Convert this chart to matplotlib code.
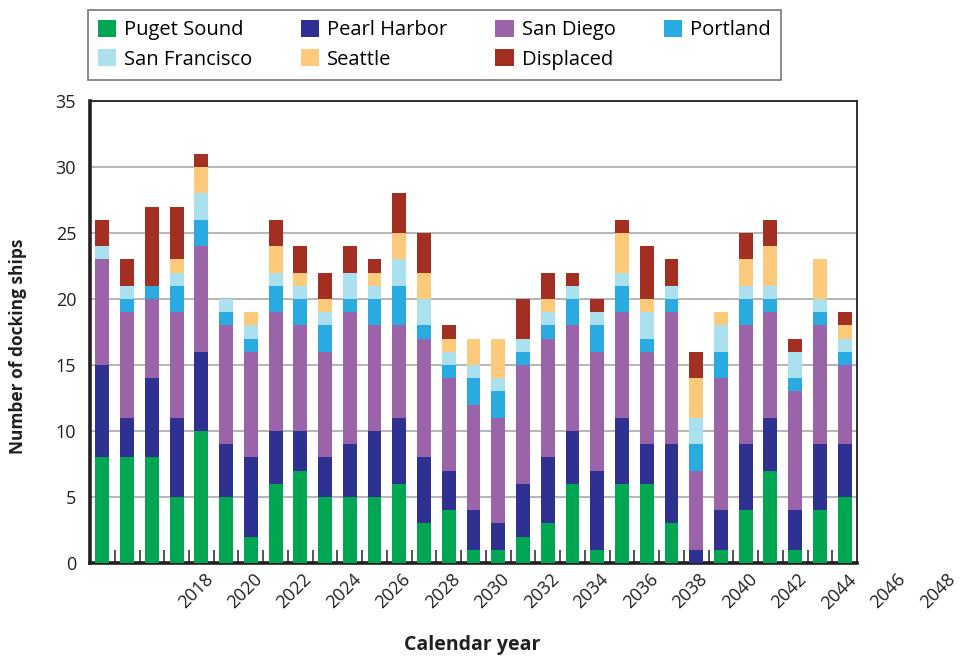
import numpy as np
import matplotlib
matplotlib.use('Agg')
import matplotlib.pyplot as plt

plt.rcParams['font.family'] = ['Open Sans', 'DejaVu Sans']

# Calendar years of the bars and the years written under the axis
years = np.arange(2014, 2045)
label_years = np.arange(2018, 2049, 2)

# Docking ships per yard, stacked bottom to top
puget_sound = [8, 8, 8, 5, 10, 5, 2, 6, 7, 5, 5, 5, 6, 3, 4, 1, 1, 2, 3, 6, 1, 6, 6, 3, 0, 1, 4, 7, 1, 4, 5]
pearl_harbor = [7, 3, 6, 6, 6, 4, 6, 4, 3, 3, 4, 5, 5, 5, 3, 3, 2, 4, 5, 4, 6, 5, 3, 6, 1, 3, 5, 4, 3, 5, 4]
san_diego = [8, 8, 6, 8, 8, 9, 8, 9, 8, 8, 10, 8, 7, 9, 7, 8, 8, 9, 9, 8, 9, 8, 7, 10, 6, 10, 9, 8, 9, 9, 6]
portland = [0, 1, 1, 2, 2, 1, 1, 2, 2, 2, 1, 2, 3, 1, 1, 2, 2, 1, 1, 2, 2, 2, 1, 1, 2, 2, 2, 1, 1, 1, 1]
san_francisco = [1, 1, 0, 1, 2, 1, 1, 1, 1, 1, 2, 1, 2, 2, 1, 1, 1, 1, 1, 1, 1, 1, 2, 1, 2, 2, 1, 1, 2, 1, 1]
seattle = [0, 0, 0, 1, 2, 0, 1, 2, 1, 1, 0, 1, 2, 2, 1, 2, 3, 0, 1, 0, 0, 3, 1, 0, 3, 1, 2, 3, 0, 3, 1]
displaced = [2, 2, 6, 4, 1, 0, 0, 2, 2, 2, 2, 1, 3, 3, 1, 0, 0, 3, 2, 1, 1, 1, 4, 2, 2, 0, 2, 2, 1, 0, 1]

series = [
    ('Puget Sound', puget_sound, '#00a651'),
    ('Pearl Harbor', pearl_harbor, '#2e3192'),
    ('San Diego', san_diego, '#9c64a8'),
    ('Portland', portland, '#29abe2'),
    ('San Francisco', san_francisco, '#abe0ee'),
    ('Seattle', seattle, '#fdc97b'),
    ('Displaced', displaced, '#a32e22'),
]

fig = plt.figure(figsize=(9.64, 6.56), dpi=100)
ax = fig.add_axes([0.0934, 0.1418, 0.7956, 0.7042])

bottom = np.zeros(len(years))
handles = {}
for name, vals, color in series:
    vals = np.array(vals)
    b = ax.bar(years, vals, 0.56, bottom=bottom, color=color, edgecolor='none', zorder=3)
    handles[name] = b
    bottom += vals

ax.set_xlim(2013.5, 2044.5)
ax.set_ylim(0, 35)
ax.set_yticks(np.arange(0, 36, 5))
ax.tick_params(axis='y', length=0, labelsize=13, pad=10, colors='#231f20')
ax.yaxis.grid(True, color='#a8a8a8', linewidth=1.2, zorder=0)

# small inward marks between bars, year labels written below
ax.set_xticks([])
ax.set_xticks(np.arange(2014.5, 2044.5, 1), minor=True)
ax.tick_params(axis='x', which='minor', direction='in', length=9.5, width=1.2, color='#333333')
for yr in label_years:
    ax.text(yr + 0.35, -0.03, str(yr), transform=ax.get_xaxis_transform(), rotation=45,
            ha='right', va='center', rotation_mode='anchor', fontsize=13, color='#231f20')

for side in ['left', 'bottom']:
    ax.spines[side].set_linewidth(2.6)
    ax.spines[side].set_color('#231f20')
for side in ['top', 'right']:
    ax.spines[side].set_linewidth(1.3)
    ax.spines[side].set_color('#231f20')

fig.text(0.019, 0.472, 'Number of docking ships', rotation=90, ha='center', va='center',
         fontsize=12.5, fontweight='bold', color='#231f20')
fig.text(0.49, 0.017, 'Calendar year', ha='center', va='center',
         fontsize=14, fontweight='bold', color='#231f20')

# legend filled column by column, so reorder to read row by row
order = ['Puget Sound', 'San Francisco', 'Pearl Harbor', 'Seattle', 'San Diego', 'Displaced', 'Portland']
leg = fig.legend([handles[n] for n in order], order, loc='upper left', bbox_to_anchor=(0.0913, 0.985),
                 ncol=4, fontsize=14.5, frameon=True, fancybox=False, borderpad=0.5,
                 handlelength=0.9, handleheight=0.9, handletextpad=0.4, columnspacing=2.4,
                 labelspacing=0.45, borderaxespad=0)
leg.get_frame().set_edgecolor('#555555')
leg.get_frame().set_linewidth(1.2)

plt.savefig('out.png', dpi=100)
